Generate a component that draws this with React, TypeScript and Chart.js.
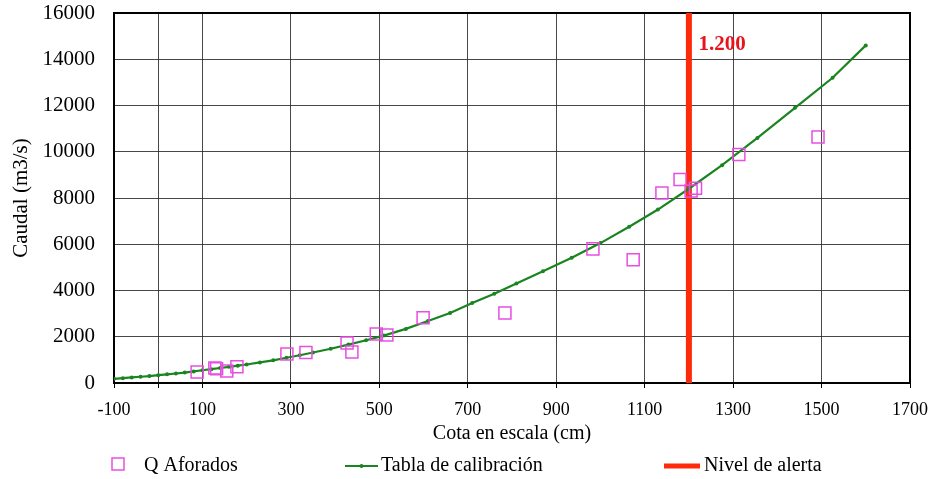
import React, { useEffect, useRef } from "react";
import { Chart, registerables } from "chart.js";

Chart.register(...registerables);

const FONT = "'Liberation Serif', 'Times New Roman', serif";

// ---- data ----
const xTickValues = [-100, 0, 100, 300, 500, 700, 900, 1100, 1300, 1500, 1700];
const xTickHidden = [0];
const yMin = 0;
const yMax = 16000;
const yStep = 2000;

const seriesNames = ["Q Aforados", "Tabla de calibración", "Nivel de alerta"];
const xTitle = "Cota en escala (cm)";
const yTitle = "Caudal (m3/s)";

// Tabla de calibración (cota cm, caudal m3/s)
const calibCota = [
  -100, -80, -60, -40, -20, 0, 20, 40, 60, 80, 100, 120, 140, 160, 180, 200,
  230, 260, 290, 320, 350, 390, 430, 470, 510, 560, 610, 660, 710, 760, 810,
  870, 935, 1000, 1065, 1130, 1200, 1275, 1355, 1440, 1525, 1600,
];
const calibCaudal = [
  180, 210, 240, 270, 300, 340, 375, 410, 450, 500, 550, 600, 650, 700, 750, 800,
  890, 980, 1090, 1200, 1320, 1480, 1660, 1850, 2050, 2340, 2680, 3030, 3460, 3860, 4300,
  4830, 5420, 6050, 6760, 7500, 8400, 9420, 10600, 11900, 13200, 14600,
];

// Q aforados
const aforCota = [
  88, 128, 132, 155, 178, 291, 334, 427, 438, 493, 517, 599, 784, 983, 1074,
  1139, 1180, 1205, 1215, 1313, 1492,
];
const aforCaudal = [
  480, 650, 620, 520, 700, 1250, 1320, 1730, 1340, 2120, 2080, 2820, 3030, 5800, 5330,
  8220, 8800, 8300, 8420, 9880, 10640,
];

// Nivel de alerta
const alertCota = 1200;
const alertCaudalRange = [0, 16000];
const alertText = "1.200";
const alertTextAt = [1222, 14650];

// ---- styles ----
const PINK = "#e64fe0";
const GREEN = "#1a8420";
const RED = "#ff2a0a";
const GRID = "rgba(40,40,40,0.85)";

const framePlugin = {
  id: "frameBox",
  beforeDatasetsDraw(chart: any) {
    const { ctx, chartArea: a } = chart;
    ctx.save();
    ctx.strokeStyle = "#000";
    ctx.lineWidth = 2;
    ctx.strokeRect(a.left, a.top, a.right - a.left, a.bottom - a.top);
    ctx.restore();
  },
};

const alertLabelPlugin = {
  id: "alertLabel",
  afterDatasetsDraw(chart: any) {
    const { ctx, scales } = chart;
    const x = scales.x.getPixelForValue(alertTextAt[0]);
    const y = scales.y.getPixelForValue(alertTextAt[1]);
    ctx.save();
    ctx.font = `bold 21px ${FONT}`;
    ctx.fillStyle = "#e8141c";
    ctx.textAlign = "left";
    ctx.textBaseline = "middle";
    ctx.fillText(alertText, x, y);
    ctx.restore();
  },
};

const legendLayout = {
  y: 466,
  items: [
    { kind: "square", from: 112, to: 124, textX: 144 },
    { kind: "line", from: 345, to: 378, textX: 381 },
    { kind: "bar", from: 664, to: 700, textX: 704 },
  ],
};

const customLegendPlugin = {
  id: "customLegend",
  afterDraw(chart: any) {
    const { ctx } = chart;
    const ds = chart.data.datasets;
    const y = legendLayout.y;
    ctx.save();
    ctx.font = `20px ${FONT}`;
    ctx.textBaseline = "middle";
    ctx.textAlign = "left";
    legendLayout.items.forEach((it, i) => {
      const d = ds[i];
      if (it.kind === "square") {
        const s = it.to - it.from;
        ctx.strokeStyle = d.borderColor;
        ctx.lineWidth = 1.5;
        ctx.strokeRect(it.from, y - s / 2 - 2, s, s);
      } else {
        ctx.strokeStyle = d.borderColor;
        ctx.lineWidth = it.kind === "bar" ? 5 : 2;
        ctx.beginPath();
        ctx.moveTo(it.from, y);
        ctx.lineTo(it.to, y);
        ctx.stroke();
        if (it.kind === "line") {
          ctx.fillStyle = d.borderColor;
          ctx.beginPath();
          ctx.arc((it.from + it.to) / 2, y, 2, 0, Math.PI * 2);
          ctx.fill();
        }
      }
      ctx.fillStyle = "#000";
      ctx.fillText(d.label, it.textX, y);
    });
    ctx.restore();
  },
};

export default function App() {
  const ref = useRef<HTMLCanvasElement>(null);

  useEffect(() => {
    const canvas = ref.current;
    if (!canvas) return;
    const chart = new Chart(canvas, {
      type: "scatter",
      data: {
        datasets: [
          {
            label: seriesNames[0],
            data: aforCota.map((x, i) => ({ x, y: aforCaudal[i] })),
            pointStyle: "rect",
            pointRadius: 8.5,
            pointBorderWidth: 1.5,
            borderColor: PINK,
            pointBorderColor: PINK,
            backgroundColor: "rgba(0,0,0,0)",
            pointBackgroundColor: "rgba(0,0,0,0)",
            showLine: false,
            order: 0,
          },
          {
            label: seriesNames[1],
            data: calibCota.map((x, i) => ({ x, y: calibCaudal[i] })),
            borderColor: GREEN,
            backgroundColor: GREEN,
            pointBackgroundColor: GREEN,
            pointBorderColor: GREEN,
            borderWidth: 2.2,
            pointRadius: 2,
            pointBorderWidth: 0,
            showLine: true,
            tension: 0,
            order: 1,
          },
          {
            label: seriesNames[2],
            data: alertCaudalRange.map((y) => ({ x: alertCota, y })),
            borderColor: RED,
            backgroundColor: RED,
            borderWidth: 6,
            pointRadius: 0,
            showLine: true,
            order: 2,
          },
        ],
      },
      options: {
        responsive: false,
        animation: false,
        layout: { padding: { left: 0, right: 25, top: 13, bottom: 32 } },
        plugins: {
          legend: { display: false },
          tooltip: { enabled: false },
        },
        scales: {
          x: {
            type: "linear",
            min: xTickValues[0],
            max: xTickValues[xTickValues.length - 1],
            afterBuildTicks: (s: any) => {
              s.ticks = xTickValues.map((v) => ({ value: v }));
            },
            afterFit: (s: any) => {
              s.height = 64;
              s.paddingLeft = 0;
              s.paddingRight = 0;
            },
            ticks: {
              autoSkip: false,
              maxRotation: 0,
              padding: 11,
              color: "#000",
              font: { family: FONT, size: 18 },
              callback: (v: any) => (xTickHidden.includes(Number(v)) ? "" : String(v)),
            },
            grid: { color: GRID, lineWidth: 1, tickLength: 5, tickColor: "#000" },
            border: { display: false },
            title: {
              display: true,
              text: xTitle,
              color: "#000",
              font: { family: FONT, size: 20 },
              padding: { top: 0, bottom: 1 },
            },
          },
          y: {
            type: "linear",
            min: yMin,
            max: yMax,
            afterFit: (s: any) => {
              s.width = 114;
              s.paddingTop = 0;
              s.paddingBottom = 0;
            },
            ticks: {
              stepSize: yStep,
              padding: 11,
              color: "#000",
              font: { family: FONT, size: 21 },
              callback: (v: any) => String(v),
            },
            grid: { color: GRID, lineWidth: 1, tickLength: 8, tickColor: "rgba(0,0,0,0)" },
            border: { display: false },
            title: {
              display: true,
              text: yTitle,
              color: "#000",
              font: { family: FONT, size: 21 },
              padding: { top: 9, bottom: 0 },
            },
          },
        },
      },
      plugins: [framePlugin, alertLabelPlugin, customLegendPlugin],
    } as any);
    return () => chart.destroy();
  }, []);

  return (
    <div style={{ position: "fixed", left: 0, top: 0, width: 935, height: 479, background: "#fff" }}>
      <canvas ref={ref} width={935} height={479} style={{ display: "block" }} />
    </div>
  );
}
